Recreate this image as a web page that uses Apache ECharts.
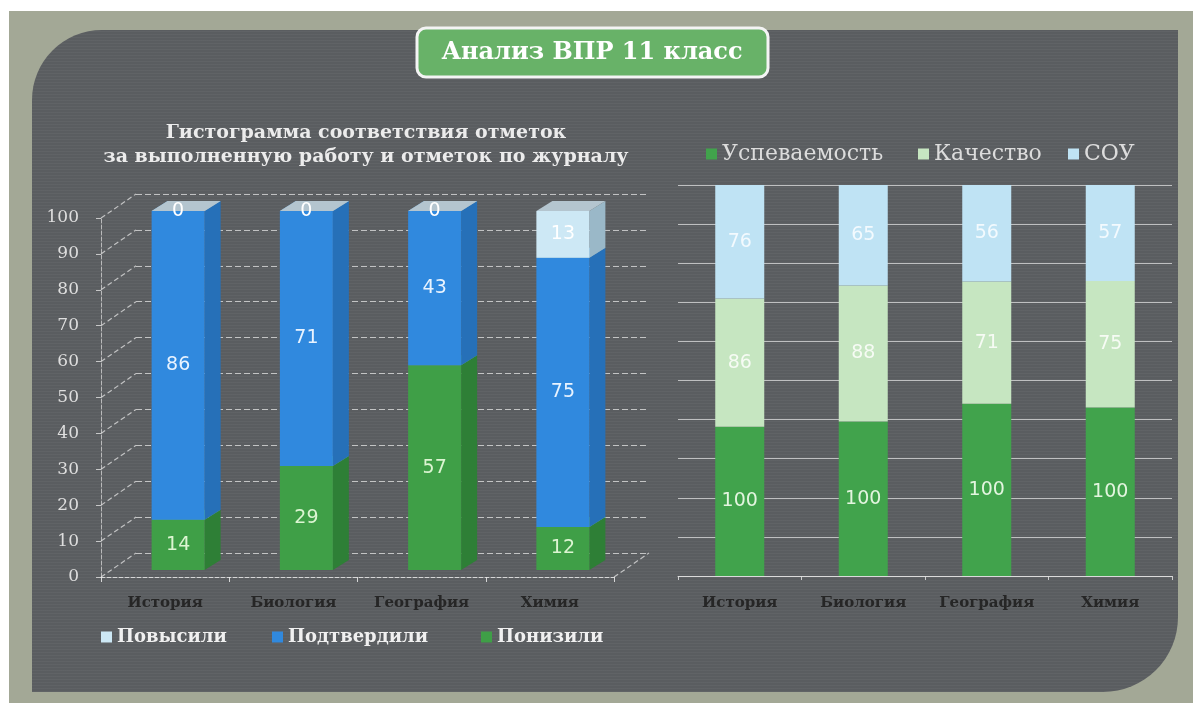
<!DOCTYPE html>
<html lang="ru">
<head>
<meta charset="utf-8">
<title>Анализ ВПР 11 класс</title>
<script src="https://cdn.jsdelivr.net/npm/echarts@6/dist/echarts.min.js"></script>
<style>
  html, body { margin: 0; padding: 0; background: #fff; }
  .stage { position: relative; width: 1193px; height: 703px; overflow: hidden; }
  .frame { position: absolute; left: 9px; top: 11px; width: 1184px; height: 692px; background: #a3a896; }
  .panel {
    position: absolute; left: 32px; top: 30px; width: 1146px; height: 662px;
    border-radius: 70px 0 75px 0;
    background-color: #5a5d60;
    background-image: repeating-linear-gradient(0deg, rgba(255,255,255,0.035) 0 1px, transparent 1px 3px);
  }
  #chart { position: absolute; left: 0; top: 0; width: 1193px; height: 703px; }
</style>
</head>
<body>
<div class="stage">
  <div class="frame"></div>
  <div class="panel"></div>
  <div id="chart"></div>
</div>
<script>
const categories = ['История', 'Биология', 'География', 'Химия'];

// левая гистограмма, %
const raised = [0, 0, 0, 13];        // Повысили
const confirmed = [86, 71, 43, 75];  // Подтвердили
const lowered = [14, 29, 57, 12];    // Понизили
const yTicks = [0, 10, 20, 30, 40, 50, 60, 70, 80, 90, 100];

// правая диаграмма
const progress = [100, 100, 100, 100]; // Успеваемость
const quality = [86, 88, 71, 75];      // Качество
const sou = [76, 65, 56, 57];          // СОУ

const serif = '"DejaVu Serif", "Liberation Serif", serif';
const sans = '"DejaVu Sans", sans-serif';

// псевдо-3D
const BAR_W = 53;
const SHIFT = [13, -7];
const DEPTH = [16, -10];
const WALL = [35, -24];

const wallStyle = { stroke: 'rgba(228,228,228,0.75)', lineWidth: 1.2, lineDash: [5, 3] };

// сегменты стопки: [категория, от, до, значение]
const lowSeg = categories.map((c, i) => [i, 0, lowered[i], lowered[i]]);
const confSeg = categories.map((c, i) => [i, lowered[i], lowered[i] + confirmed[i], confirmed[i]]);
const raisedSeg = categories.map((c, i) => {
  const base = lowered[i] + confirmed[i];
  return [i, base, base + raised[i], raised[i]];
});

function box3d(colors, labelColor) {
  return function (params, api) {
    const cat = api.value(0);
    const lo = api.coord([cat, api.value(1)]);
    const hi = api.coord([cat, api.value(2)]);
    const x = lo[0] - BAR_W / 2 + SHIFT[0];
    const yb = lo[1] + SHIFT[1];
    const yt = hi[1] + SHIFT[1];
    const dx = DEPTH[0], dy = DEPTH[1];
    return {
      type: 'group',
      children: [
        {
          type: 'polygon',
          shape: { points: [[x + BAR_W, yb], [x + BAR_W + dx, yb + dy], [x + BAR_W + dx, yt + dy], [x + BAR_W, yt]] },
          style: { fill: colors.side }
        },
        {
          type: 'rect',
          shape: { x: x, y: yt, width: BAR_W, height: yb - yt },
          style: { fill: colors.front }
        },
        {
          type: 'polygon',
          shape: { points: [[x, yt], [x + BAR_W, yt], [x + BAR_W + dx, yt + dy], [x + dx, yt + dy]] },
          style: { fill: colors.top }
        },
        {
          type: 'text',
          style: {
            text: String(api.value(3)),
            x: x + BAR_W / 2,
            y: (yt + yb) / 2,
            align: 'center',
            verticalAlign: 'middle',
            fill: labelColor,
            font: '19px ' + sans
          }
        }
      ]
    };
  };
}

// боковая стенка и пол
function wallLines(params, api) {
  const v = api.value(1);
  const cs = params.coordSys;
  const y = api.coord([0, v])[1];
  const children = [{
    type: 'line',
    shape: { x1: cs.x, y1: y, x2: cs.x + WALL[0], y2: y + WALL[1] },
    style: wallStyle
  }];
  if (v === 0) {
    children.push({
      type: 'line',
      shape: { x1: cs.x + cs.width, y1: y, x2: cs.x + cs.width + WALL[0], y2: y + WALL[1] },
      style: wallStyle
    });
  }
  return { type: 'group', children: children };
}

// 100% накопление для правой диаграммы
const totals = categories.map((c, i) => progress[i] + quality[i] + sou[i]);
const share = arr => arr.map((v, i) => v / totals[i] * 100);

const axisName = { color: '#262626', fontFamily: serif, fontWeight: 'bold', fontSize: 15, interval: 0 };

const chart = echarts.init(document.getElementById('chart'));

chart.setOption({
  backgroundColor: 'transparent',
  animation: false,
  graphic: [
    {
      type: 'group',
      z: 100,
      children: [
        {
          type: 'rect',
          shape: { x: 417, y: 28, width: 351, height: 49, r: 9 },
          style: { fill: '#68b268', stroke: '#f4f4f4', lineWidth: 3 }
        },
        {
          type: 'text',
          x: 592, y: 53,
          style: {
            text: 'Анализ ВПР 11 класс',
            align: 'center', verticalAlign: 'middle',
            fill: '#ffffff',
            font: 'bold 24px ' + serif
          }
        }
      ]
    },
    {
      type: 'text',
      x: 366, y: 121,
      style: {
        text: 'Гистограмма соответствия отметок\nза выполненную работу и отметок по журналу',
        align: 'center',
        fill: '#ececec',
        font: 'bold 19px ' + serif,
        lineHeight: 24
      }
    }
  ],
  legend: [
    { data: ['Повысили'], left: 101, top: 628 },
    { data: ['Подтвердили'], left: 272, top: 628 },
    { data: ['Понизили'], left: 481, top: 628 },
    { data: ['Успеваемость'], left: 706, top: 143 },
    { data: ['Качество'], left: 918, top: 143 },
    { data: ['СОУ'], left: 1068, top: 143 }
  ].map((l, k) => Object.assign({
    padding: 0,
    icon: 'rect',
    itemWidth: 11,
    itemHeight: 11,
    selectedMode: false,
    textStyle: k < 3
      ? { color: '#f0f0f0', fontFamily: serif, fontWeight: 'bold', fontSize: 18 }
      : { color: '#dcdcdc', fontFamily: serif, fontSize: 22 }
  }, l)),
  grid: [
    { left: 101, top: 218, width: 513, height: 359 },
    { left: 136, top: 194, width: 513, height: 359 },
    { left: 678, top: 185, width: 494, height: 391 }
  ],
  xAxis: [
    {
      gridIndex: 0,
      type: 'category',
      data: categories,
      axisLine: { lineStyle: { color: 'rgba(235,235,235,0.85)', type: [4, 2] } },
      axisTick: { show: true, length: 5, lineStyle: { color: 'rgba(235,235,235,0.85)' } },
      axisLabel: Object.assign({ margin: 19 }, axisName)
    },
    { gridIndex: 1, type: 'category', data: categories, show: false },
    {
      gridIndex: 2,
      type: 'category',
      data: categories,
      axisLine: { lineStyle: { color: 'rgba(225,225,225,0.85)' } },
      axisTick: { show: true, length: 4, lineStyle: { color: 'rgba(225,225,225,0.85)' } },
      axisLabel: Object.assign({ margin: 20 }, axisName)
    }
  ],
  yAxis: [
    {
      gridIndex: 0,
      type: 'value',
      min: 0, max: 100, interval: 10,
      axisLine: { show: true, lineStyle: { color: 'rgba(225,225,225,0.7)', type: [4, 2] } },
      axisTick: { show: true, length: 5, lineStyle: { color: 'rgba(225,225,225,0.8)' } },
      axisLabel: { color: '#dedede', fontFamily: serif, fontSize: 17, margin: 22 },
      splitLine: { show: false }
    },
    {
      gridIndex: 1,
      type: 'value',
      min: 0, max: 100, interval: 10,
      axisLine: { show: false },
      axisTick: { show: false },
      axisLabel: { show: false },
      splitLine: { show: true, lineStyle: { color: 'rgba(228,228,228,0.75)', width: 1.2, type: [6, 3] } }
    },
    {
      gridIndex: 2,
      type: 'value',
      min: 0, max: 100, interval: 10,
      axisLine: { show: false },
      axisTick: { show: false },
      axisLabel: { show: false },
      splitLine: { show: true, lineStyle: { color: 'rgba(225,225,225,0.75)', width: 1.2 } }
    }
  ],
  series: [
    {
      type: 'custom',
      name: 'стенка',
      xAxisIndex: 0, yAxisIndex: 0,
      silent: true,
      z: 1,
      renderItem: wallLines,
      data: yTicks.map(v => [0, v])
    },
    {
      type: 'custom',
      name: 'Понизили',
      xAxisIndex: 0, yAxisIndex: 0,
      z: 3,
      itemStyle: { color: '#3f9f47' },
      renderItem: box3d({ front: '#3f9f47', side: '#2e7f36', top: '#5cb865' }, '#dcf5d2'),
      encode: { x: 0, y: [1, 2] },
      data: lowSeg
    },
    {
      type: 'custom',
      name: 'Подтвердили',
      xAxisIndex: 0, yAxisIndex: 0,
      z: 4,
      itemStyle: { color: '#3089de' },
      renderItem: box3d({ front: '#3089de', side: '#2670b8', top: '#6aaee6' }, '#e8f3ff'),
      encode: { x: 0, y: [1, 2] },
      data: confSeg
    },
    {
      type: 'custom',
      name: 'Повысили',
      xAxisIndex: 0, yAxisIndex: 0,
      z: 5,
      itemStyle: { color: '#cde8f5' },
      renderItem: box3d({ front: '#cde8f5', side: '#9ab8c8', top: '#b4c5cf' }, '#ffffff'),
      encode: { x: 0, y: [1, 2] },
      data: raisedSeg
    },
    {
      type: 'bar',
      name: 'Успеваемость',
      xAxisIndex: 2, yAxisIndex: 2,
      stack: 'r',
      barWidth: 49,
      itemStyle: { color: '#41a34c' },
      label: { show: true, position: 'inside', formatter: p => progress[p.dataIndex], color: '#e3f5df', fontFamily: sans, fontSize: 19 },
      data: share(progress)
    },
    {
      type: 'bar',
      name: 'Качество',
      xAxisIndex: 2, yAxisIndex: 2,
      stack: 'r',
      barWidth: 49,
      itemStyle: { color: '#c6e6c1' },
      label: { show: true, position: 'inside', formatter: p => quality[p.dataIndex], color: '#f6fbf4', fontFamily: sans, fontSize: 19 },
      data: share(quality)
    },
    {
      type: 'bar',
      name: 'СОУ',
      xAxisIndex: 2, yAxisIndex: 2,
      stack: 'r',
      barWidth: 49,
      itemStyle: { color: '#bfe3f4' },
      label: { show: true, position: 'inside', formatter: p => sou[p.dataIndex], color: '#f3fafe', fontFamily: sans, fontSize: 19 },
      data: share(sou)
    }
  ]
});
</script>
</body>
</html>
